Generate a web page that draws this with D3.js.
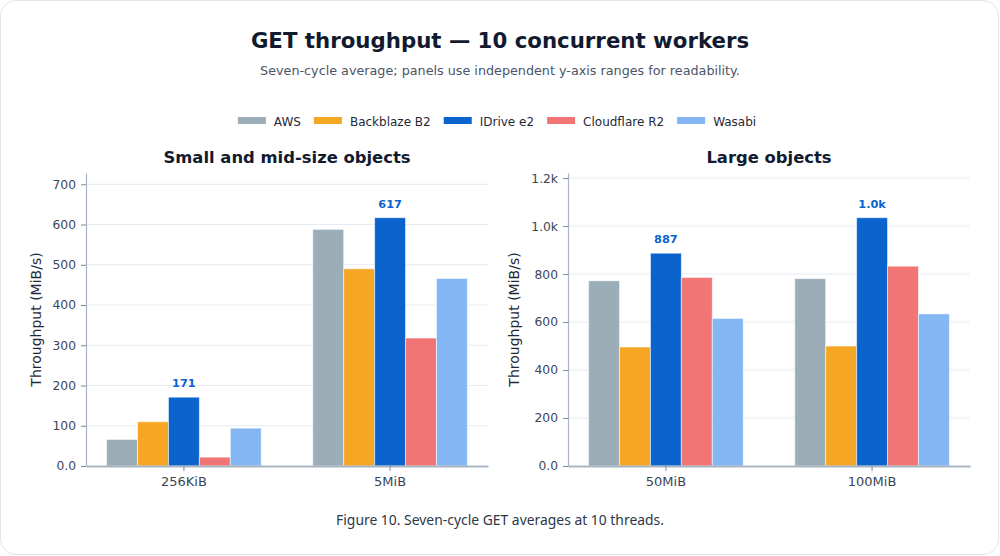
<!DOCTYPE html>
<html>
<head>
<meta charset="utf-8">
<script src="https://cdn.jsdelivr.net/npm/d3@7"></script>
<style>
  html, body { margin: 0; padding: 0; background: #ffffff; }
  #card {
    position: absolute; left: 0; top: 0;
    width: 997px; height: 553px;
    border: 1.5px solid #e2e4e8; border-radius: 16px;
    background: #fff;
  }
  svg { position: absolute; left: 0; top: 0; }
  text { font-family: "DejaVu Sans", sans-serif; }
  .caption { font-family: "Noto Sans", "Open Sans", sans-serif; }
</style>
</head>
<body>
<div id="card"></div>
<svg id="chart" width="1000" height="556"></svg>
<script>
// providers and colours
const providers = ["AWS", "Backblaze B2", "IDrive e2", "Cloudflare R2", "Wasabi"];
const colors = ["#9badb7", "#f5a623", "#0b63ce", "#f27575", "#84b6f4"];

// panel 1: small and mid-size objects
const smallSizes = ["256KiB", "5MiB"];
const smallValues = [
  [66, 110, 171, 22, 94],     // 256KiB
  [588, 490, 617, 318, 466]   // 5MiB
];

// panel 2: large objects
const largeSizes = ["50MiB", "100MiB"];
const largeValues = [
  [772, 496, 887, 786, 615],    // 50MiB
  [781, 500, 1035, 833, 634]    // 100MiB
];

const svg = d3.select("#chart");

// headings
svg.append("text")
  .attr("x", 500).attr("y", 48)
  .attr("text-anchor", "middle")
  .attr("font-size", 21.3).attr("font-weight", "bold")
  .attr("fill", "#111a2e")
  .text("GET throughput \u2014 10 concurrent workers");

svg.append("text")
  .attr("x", 500).attr("y", 75)
  .attr("text-anchor", "middle")
  .attr("font-size", 12.75)
  .attr("fill", "#4a5568")
  .text("Seven-cycle average; panels use independent y-axis ranges for readability.");

// legend, laid out from measured label widths
const legend = svg.append("g");
let lx = 0;
providers.forEach((p, i) => {
  const item = legend.append("g").attr("transform", `translate(${lx},0)`);
  item.append("rect")
    .attr("x", 0).attr("y", -4)
    .attr("width", 28).attr("height", 7)
    .attr("fill", colors[i]);
  const t = item.append("text")
    .attr("x", 36).attr("y", 4.5)
    .attr("font-size", 12)
    .attr("fill", "#1f2937")
    .text(p);
  lx += 36 + t.node().getComputedTextLength() + 13;
});
lx -= 13;
legend.attr("transform", `translate(${497 - lx / 2},121)`);

function fmt(v) {
  if (v >= 1000) return (v / 1000).toFixed(1) + "k";
  if (v < 10) return v.toFixed(1);
  return String(Math.round(v));
}

function drawPanel(title, sizes, values, left, right) {
  const top = 173, bottom = 466;
  const g = svg.append("g");

  const maxVal = d3.max(values.flat());
  const y = d3.scaleLinear().domain([0, maxVal * 1.18]).range([bottom, top]);
  const x0 = d3.scaleBand().domain(sizes).range([left, right])
    .paddingInner(0.25).paddingOuter(0.1);
  const x1 = d3.scaleBand().domain(providers).range([0, x0.bandwidth()]);

  g.append("text")
    .attr("x", (left + right) / 2).attr("y", 163)
    .attr("text-anchor", "middle")
    .attr("font-size", 16.4).attr("font-weight", "bold")
    .attr("fill", "#111a2e")
    .text(title);

  const ticks = y.ticks(7);

  // gridlines
  g.selectAll("line.grid")
    .data(ticks.filter(t => t > 0))
    .enter().append("line")
    .attr("class", "grid")
    .attr("x1", left).attr("x2", right)
    .attr("y1", d => y(d)).attr("y2", d => y(d))
    .attr("stroke", "#e6ebf2").attr("stroke-width", 1);

  // y axis
  const yAxis = g.append("g")
    .attr("transform", `translate(${left},0)`)
    .call(d3.axisLeft(y).tickValues(ticks).tickFormat(fmt).tickSize(5).tickSizeOuter(0).tickPadding(5));
  yAxis.select(".domain").attr("stroke", "#a7b3c2").attr("stroke-width", 1.2);
  yAxis.selectAll(".tick line").attr("stroke", "#7b8798");
  yAxis.selectAll(".tick text")
    .attr("font-family", "DejaVu Sans")
    .attr("font-size", 12.3).attr("fill", "#3b4556");

  // place the y label just outside the widest tick label
  let tw = 0;
  yAxis.selectAll(".tick text").each(function () {
    tw = Math.max(tw, this.getComputedTextLength());
  });
  const labelX = left - 10 - tw - 12;
  g.append("text")
    .attr("transform", `translate(${labelX},${(top + bottom) / 2}) rotate(-90)`)
    .attr("text-anchor", "middle")
    .attr("font-size", 14).attr("fill", "#1f2937")
    .text("Throughput (MiB/s)");

  // bars
  sizes.forEach((s, gi) => {
    const grp = g.append("g").attr("transform", `translate(${x0(s)},0)`);
    grp.selectAll("rect")
      .data(values[gi])
      .enter().append("rect")
      .attr("x", (d, i) => x1(providers[i]))
      .attr("y", d => y(d))
      .attr("width", x1.bandwidth())
      .attr("height", d => bottom - y(d))
      .attr("fill", (d, i) => colors[i])
      .attr("stroke", "rgba(255,255,255,0.55)")
      .attr("stroke-width", 1);

    // annotate the tallest bar
    const mi = d3.maxIndex(values[gi]);
    grp.append("text")
      .attr("x", x1(providers[mi]) + x1.bandwidth() / 2)
      .attr("y", y(values[gi][mi]) - 10)
      .attr("text-anchor", "middle")
      .attr("font-size", 11.3).attr("font-weight", "bold")
      .attr("fill", colors[mi])
      .text(fmt(values[gi][mi]));
  });

  // x axis
  const xAxis = g.append("g")
    .attr("transform", `translate(0,${bottom})`)
    .call(d3.axisBottom(x0).tickSize(5).tickSizeOuter(0).tickPadding(6));
  xAxis.select(".domain").attr("stroke", "#aab5c3").attr("stroke-width", 2);
  xAxis.selectAll(".tick line").attr("stroke", "#7b8798");
  xAxis.selectAll(".tick text")
    .attr("font-family", "DejaVu Sans")
    .attr("font-size", 13).attr("fill", "#3b4556");
}

drawPanel("Small and mid-size objects", smallSizes, smallValues, 86, 488);
drawPanel("Large objects", largeSizes, largeValues, 568, 970);

svg.append("text")
  .attr("class", "caption")
  .attr("x", 500).attr("y", 525)
  .attr("text-anchor", "middle")
  .attr("font-size", 13.9)
  .attr("fill", "#2d3748")
  .text("Figure 10. Seven-cycle GET averages at 10 threads.");
</script>
</body>
</html>
